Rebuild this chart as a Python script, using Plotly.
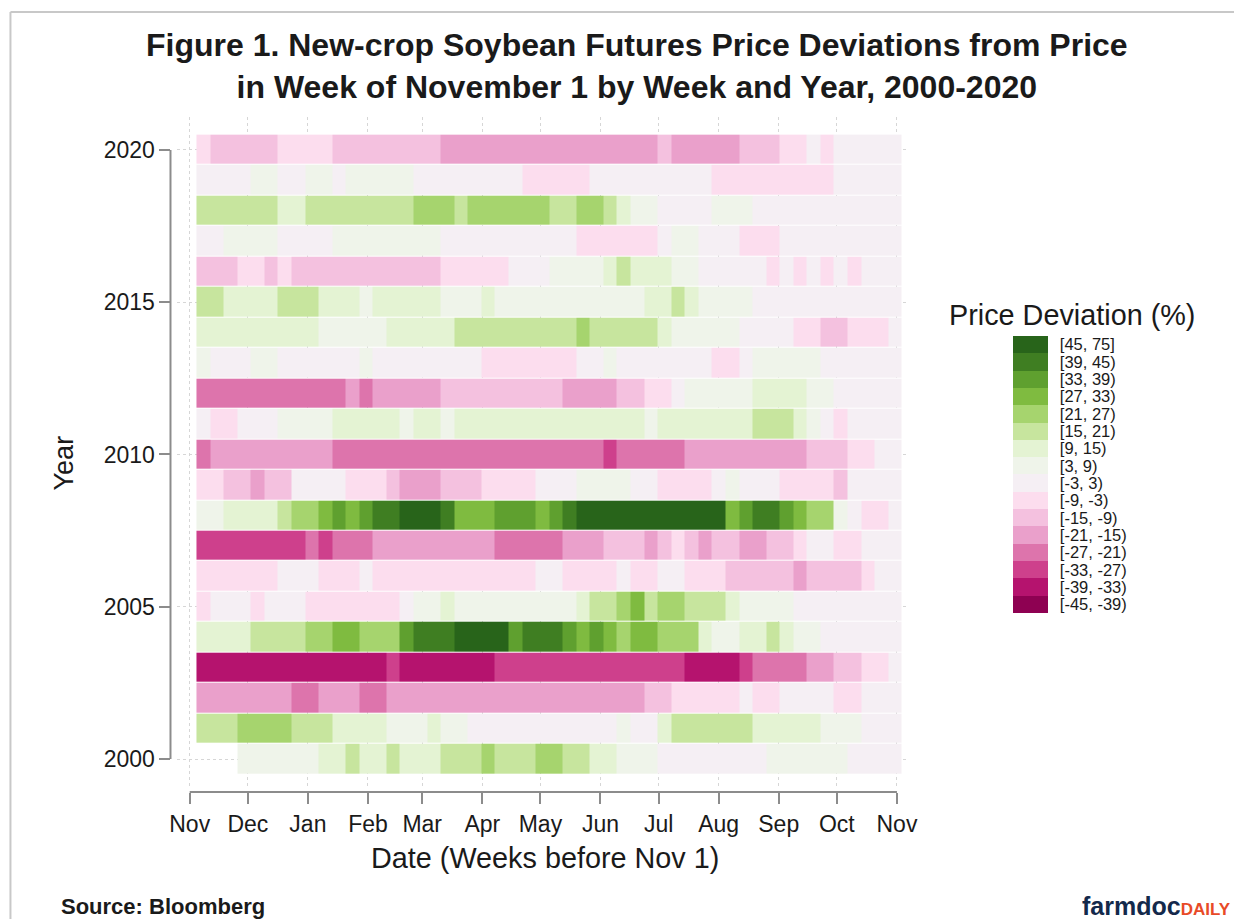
import plotly.graph_objects as go

# ---------------- data ----------------
years = list(range(2000, 2021))
weeks = list(range(1, 53))          # week number (week 1 = first week of November)

# Deviation class of each week (hex code, 0 = [-45,-39) ... F = [45,75]; '.' = no data)
# spaces only separate runs for readability
y2020 = "6 55555 6666 55555555 4444444444444444 5 44444 555 66 7 6 77777"
y2019 = "7777 88 77 88 7 88888 77777777 66666 777777777 666666666 77777"
y2018 = "AAAAAA 99 AAAAAAAA BBB A BBBBBB AA BB A 9 88 7777 888 77777777777"
y2017 = "77 8888 7777 88888888 7777777777 666666 7 88 777 666 777777777"
y2016 = "555 66 5 6 55555555555 66666 777 8888 9 A 999 88 77777 6 7 6 7 6 7 6 777"
y2015 = "AA 9999 AAA 999 8 99999 888 9 88888888888 99 A 9 8888 77777777777"
y2014 = "999999999 88888 99999 AAAAAAAAA B AAAAA 9 88888 7777 66 55 666 7"
y2013 = "8 777 88 777777 8 77777777 6666666 77 8 7777777 66 7 88888 777777"
y2012 = "33333333333 4 3 44444 555555555 4444 55 66 7 88888 9999 88 77777"
y2011 = "7 66 777 8888 99999 8 99 8 99999999999999 8 9999999 AAA 9 8 7 6 7777"
y2010 = "3 444444444 33333333333333333333 2 33333 444444444 555 66 77"
y2009 = "66 55 4 55 7777 666 5 444 555 6666 777 8888 77 6666 7 8 777 6666 5 7777"
y2008 = "88 9999 A BB C D C D EE FFF E CCC DDD C D E FFFFFFFFFFF C D EE D C BB 8 7 66 7"
y2007 = "22222222 3 2 333 444444444 33333 444 555 4 5 6 5 4 55 44 55 6 77 66 777"
y2006 = "666666 777 666 7 666666666666 77 6666 7 66 77 666 55555 4 5555 6 77"
y2005 = "6 777 6 777 6666666 7 88 9 888888888 9 AA B C A BB AAA 9 8888 77777777"
y2004 = "9999 AAAA BB CC BBB D EEE FFFF D EEE D C D C B CC BBB 9 88 99 A 9 88 777777"
y2003 = "11111111111111 2 1111111 22222222222222 1111 2 3333 44 55 66 7"
y2002 = "4444444 33 444 33 4444444444444444444 55 66666 7 66 7777 66 777"
y2001 = "AAA BBBB AAA 9999 888 9 88 77777777777 8 77 9 AAAAAA 99999 888 777"
y2000 = "... 888888 99 A 99 A 999 AAA B AAA BB AA 99 888 77777777 888888 7777"

class_labels = ["[-45, -39)", "[-39, -33)", "[-33, -27)", "[-27, -21)", "[-21, -15)",
                "[-15, -9)", "[-9, -3)", "[-3, 3)", "[3, 9)", "[9, 15)", "[15, 21)",
                "[21, 27)", "[27, 33)", "[33, 39)", "[39, 45)", "[45, 75]"]
class_colors = ["#8E0152", "#B5136E", "#CE408C", "#DD74AC", "#EAA0CB", "#F4C1DF",
                "#FCDDEE", "#F5EFF4", "#EFF4EA", "#E4F3D3", "#C7E59E", "#A6D46E",
                "#7FBB40", "#5FA02F", "#3F7E22", "#28641A"]

month_labels = ["Nov", "Dec", "Jan", "Feb", "Mar", "Apr", "May", "Jun", "Jul",
                "Aug", "Sep", "Oct", "Nov"]
month_days = [0, 30, 61, 92, 120, 151, 181, 212, 242, 273, 304, 334, 365]
year_ticks = [2000, 2005, 2010, 2015, 2020]

# ---------------- build ----------------
row_strings = [y2000, y2001, y2002, y2003, y2004, y2005, y2006, y2007, y2008, y2009,
               y2010, y2011, y2012, y2013, y2014, y2015, y2016, y2017, y2018, y2019, y2020]


def parse(s):
    vals = [None if c == "." else int(c, 16) for c in s.replace(" ", "")]
    vals = (vals + [None] * len(weeks))[:len(weeks)]
    return vals


z = [parse(s) for s in row_strings]

n = len(class_colors)
colorscale = []
for k, c in enumerate(class_colors):
    colorscale.append([k / n, c])
    colorscale.append([(k + 1) / n, c])

W, H = 1244, 919
FONT = "Arial, Liberation Sans, Helvetica, sans-serif"
TXT = "#1a1a1a"
AX = "#8c8c8c"


def px(xp):
    # horizontal placement (compensates the slight horizontal squeeze of the capture)
    return (xp - 8.6) / 0.985 / W


def py(yp):
    return 1 - yp / H


fig = go.Figure()
fig.add_trace(go.Heatmap(
    x=weeks, y=years, z=z,
    zmin=-0.5, zmax=n - 0.5,
    colorscale=colorscale,
    ygap=1,
    hoverongaps=False,
    colorbar=dict(
        x=px(1013), xanchor="left", xpad=0,
        y=py(474.5), yanchor="middle", ypad=0,
        lenmode="pixels", len=277, thickness=35,
        outlinewidth=0,
        tickvals=list(range(n)), ticktext=class_labels,
        ticks="outside", ticklen=9, tickcolor="rgba(0,0,0,0)",
        tickfont=dict(family=FONT, size=16.5, color=TXT),
    ),
))

fig.update_layout(
    width=W, height=H,
    margin=dict(l=0, r=0, t=0, b=0),
    paper_bgcolor="white", plot_bgcolor="white",
    font=dict(family=FONT, color=TXT),
    xaxis=dict(
        domain=[px(178), px(908)],
        range=[-0.9, 52.95],
        anchor="free", position=py(792),
        tickvals=[d / 7 for d in month_days], ticktext=month_labels,
        ticks="outside", ticklen=11, tickwidth=2, tickcolor=AX,
        tickfont=dict(family=FONT, size=23, color=TXT),
        showline=False, zeroline=False,
        showgrid=True, gridcolor="#D6D6D6", griddash="dot", gridwidth=1,
    ),
    yaxis=dict(
        domain=[py(788), py(117)],
        range=[1999.05, 2021.08],
        anchor="free", position=px(171),
        tickvals=year_ticks,
        ticks="outside", ticklen=11, tickwidth=2, tickcolor=AX,
        ticklabelstandoff=0,
        tickfont=dict(family=FONT, size=23, color=TXT),
        showline=False, zeroline=False,
        showgrid=True, gridcolor="#D6D6D6", griddash="dot", gridwidth=1,
    ),
)

# axis lines spanning the tick range (Stata style)
fig.add_shape(type="line", xref="paper", yref="y", x0=px(171), x1=px(171),
              y0=year_ticks[0], y1=year_ticks[-1], line=dict(color=AX, width=2))
fig.add_shape(type="line", xref="x", yref="paper", x0=month_days[0] / 7,
              x1=month_days[-1] / 7, y0=py(792), y1=py(792), line=dict(color=AX, width=2))
# outer frame
fig.add_shape(type="line", xref="paper", yref="paper", x0=0.002, x1=1.0,
              y0=py(12), y1=py(12), line=dict(color="#C8C8C8", width=2))
fig.add_shape(type="line", xref="paper", yref="paper", x0=0.002, x1=0.002,
              y0=py(12), y1=0.0, line=dict(color="#C8C8C8", width=2))

ann = [
    dict(text="<b>Figure 1. New-crop Soybean Futures Price Deviations from Price<br>"
              "in Week of November 1 by Week and Year, 2000-2020</b>",
         x=px(637), y=py(66), xanchor="center", yanchor="middle",
         font=dict(family=FONT, size=32, color=TXT)),
    dict(text="Year", x=px(65), y=py(463), textangle=-90, xanchor="center",
         yanchor="middle", font=dict(family=FONT, size=27, color=TXT)),
    dict(text="Date (Weeks before Nov 1)", x=px(545), y=py(858), xanchor="center",
         yanchor="middle", font=dict(family=FONT, size=28.8, color=TXT)),
    dict(text="Price Deviation (%)", x=px(1072), y=py(315), xanchor="center",
         yanchor="middle", font=dict(family=FONT, size=28.8, color=TXT)),
    dict(text="<b>Source: Bloomberg</b>", x=px(60), y=py(906), xanchor="left",
         yanchor="middle", font=dict(family=FONT, size=22, color=TXT)),
    dict(text="<b><span style='color:#13294B;font-size:25px'>farmdoc</span>"
              "<span style='color:#E84A27;font-size:17px'>DAILY</span></b>",
         x=px(1233), y=py(906), xanchor="right", yanchor="middle",
         font=dict(family=FONT, size=25, color="#13294B")),
]
for a in ann:
    a.update(xref="paper", yref="paper", showarrow=False)
    fig.add_annotation(**a)

fig.write_html(
    "out.html",
    config={"displayModeBar": False},
    post_script=(
        "document.documentElement.style.margin='0';"
        "document.documentElement.style.overflow='hidden';"
        "document.body.style.margin='0';document.body.style.padding='0';"
        "document.body.style.overflow='hidden';"
        "var gd=document.getElementById('{plot_id}');"
        "gd.style.position='fixed';gd.style.left='0px';gd.style.top='0px';"
    ),
)
